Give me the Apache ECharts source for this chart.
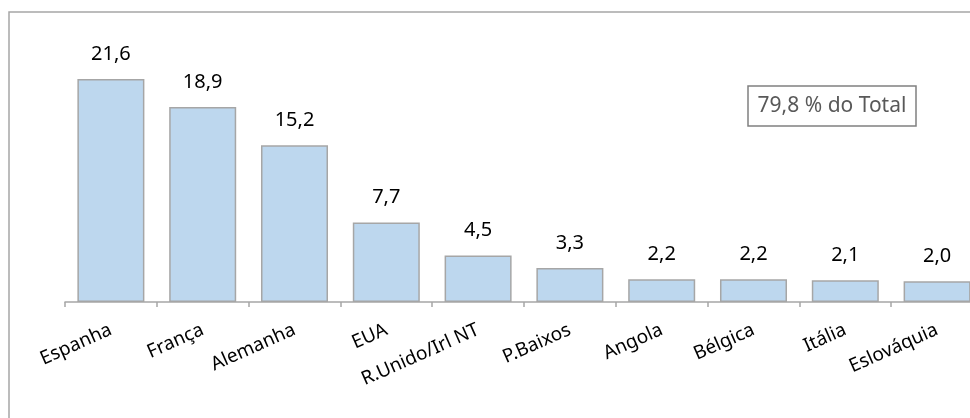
<!DOCTYPE html>
<html>
<head>
<meta charset="utf-8">
<script src="https://cdn.jsdelivr.net/npm/echarts@6/dist/echarts.min.js"></script>
<style>
  html, body { margin: 0; padding: 0; background: #fff; }
  #chart { width: 970px; height: 418px; }
</style>
</head>
<body>
<div id="chart"></div>
<script>
  // destinos das exportações (% do total)
  var paises = ['Espanha', 'França', 'Alemanha', 'EUA', 'R.Unido/Irl NT', 'P.Baixos', 'Angola', 'Bélgica', 'Itália', 'Eslováquia'];
  var valores = [21.6, 18.9, 15.2, 7.7, 4.5, 3.3, 2.2, 2.2, 2.1, 2.0];
  var totalTexto = '79,8 % do Total';

  var fonte = '"Noto Sans", "Open Sans", sans-serif';
  var chart = echarts.init(document.getElementById('chart'));
  chart.setOption({
    animation: false,
    grid: { left: 65, right: -13, top: 44, bottom: 116, outerBoundsMode: 'none', containLabel: false },
    xAxis: {
      type: 'category',
      data: paises,
      axisLine: { lineStyle: { color: '#A6A6A6', width: 1.5 } },
      axisTick: { show: true, length: 5, lineStyle: { color: '#A6A6A6', width: 1.5 } },
      axisLabel: {
        rotate: 24,
        margin: 27,
        interval: 0,
        color: '#000',
        fontSize: 19,
        fontFamily: fonte
      }
    },
    yAxis: {
      type: 'value',
      min: 0,
      max: 25,
      show: false
    },
    series: [{
      type: 'bar',
      data: valores,
      barCategoryGap: '27%',
      itemStyle: { color: '#BDD7EE', borderColor: '#A6A6A6', borderWidth: 1.5 },
      label: {
        show: true,
        position: 'top',
        distance: 15,
        color: '#000',
        fontSize: 20,
        fontFamily: fonte,
        formatter: function (p) { return p.value.toFixed(1).replace('.', ','); }
      }
    }],
    graphic: [{
      type: 'rect',
      shape: { x: 9, y: 12, width: 1000, height: 500 },
      style: { fill: 'none', stroke: '#A6A6A6', lineWidth: 1.5 },
      silent: true
    }, {
      type: 'rect',
      shape: { x: 748, y: 86, width: 168, height: 40 },
      style: { fill: '#fff', stroke: '#808080', lineWidth: 1.5 }
    }, {
      type: 'text',
      x: 832, y: 106,
      style: {
        text: totalTexto,
        fill: '#595959',
        fontSize: 21,
        fontFamily: fonte,
        align: 'center',
        verticalAlign: 'middle'
      }
    }]
  });
</script>
</body>
</html>
